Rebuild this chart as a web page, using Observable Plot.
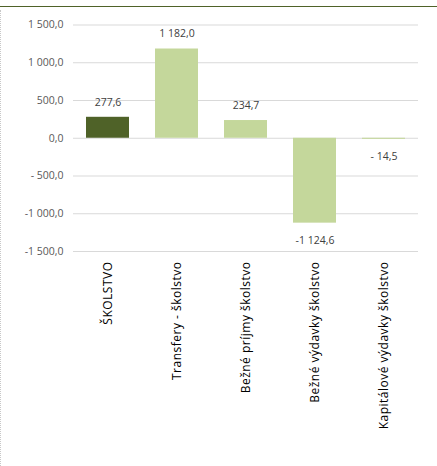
<!DOCTYPE html>
<html>
<head>
<meta charset="utf-8">
<script src="https://cdn.jsdelivr.net/npm/d3@7"></script>
<script src="https://cdn.jsdelivr.net/npm/@observablehq/plot@0.6"></script>
<style>
  html, body { margin: 0; padding: 0; background: #fff; }
  #wrap { position: relative; width: 437px; height: 466px; overflow: hidden; }
  #topline { position: absolute; left: 0; top: 6px; width: 437px; height: 0; border-top: 1.5px solid #4f6228; }
  #leftline { position: absolute; left: 0; top: 10px; width: 0; height: 456px; border-left: 1px dotted #c8c8c8; }
  #chart { position: absolute; left: 0; top: 0; }
  #chart svg g[aria-label="x-axis tick label"] text { letter-spacing: 0.5px; }
</style>
</head>
<body>
<div id="wrap">
  <div id="chart"></div>
  <div id="topline"></div>
  <div id="leftline"></div>
</div>
<script>
const categories = ["ŠKOLSTVO", "Transfery - školstvo", "Bežné príjmy školstvo", "Bežné výdavky školstvo", "Kapitálové výdavky školstvo"];
const values = [277.6, 1182.0, 234.7, -1124.6, -14.5];
const valueLabels = ["277,6", "1 182,0", "234,7", "-1 124,6", "- 14,5"];
const barColors = ["#4f6228", "#c4d79b", "#c4d79b", "#c4d79b", "#c4d79b"];
const yTicks = [1500, 1000, 500, 0, -500, -1000, -1500];
const yTickLabels = ["1 500,0", "1 000,0", "500,0", "0,0", "- 500,0", "-1 000,0", "-1 500,0"];

const data = categories.map((c, i) => ({cat: c, value: values[i], label: valueLabels[i], color: barColors[i]}));

const chart = Plot.plot({
  width: 437,
  height: 466,
  marginTop: 24.5,
  marginBottom: 215,
  marginLeft: 73,
  marginRight: 19,
  style: {fontFamily: "'Open Sans', sans-serif", background: "transparent"},
  x: {domain: categories, paddingInner: 0.38, paddingOuter: 0.19, align: 0.5},
  y: {domain: [-1500, 1500]},
  marks: [
    Plot.gridY(yTicks, {stroke: "#d9d9d9", strokeOpacity: 1, strokeWidth: 1}),
    Plot.axisY(yTicks, {
      tickSize: 0, tickPadding: 10, fontSize: 10.5, fill: "#595959",
      tickFormat: d => yTickLabels[yTicks.indexOf(d)], label: null
    }),
    Plot.axisX({
      tickSize: 0, tickPadding: 10, tickRotate: -90, fontSize: 12, fill: "#000", label: null
    }),
    Plot.barY(data, {x: "cat", y: "value", fill: "color"}),
    Plot.text(data.filter(d => d.value >= 0), {x: "cat", y: "value", text: "label", dy: -15, fontSize: 10.5, fill: "#404040"}),
    Plot.text(data.filter(d => d.value < 0), {x: "cat", y: "value", text: "label", dy: 17, fontSize: 10.5, fill: "#404040"})
  ]
});
document.getElementById("chart").appendChild(chart);
</script>
</body>
</html>
